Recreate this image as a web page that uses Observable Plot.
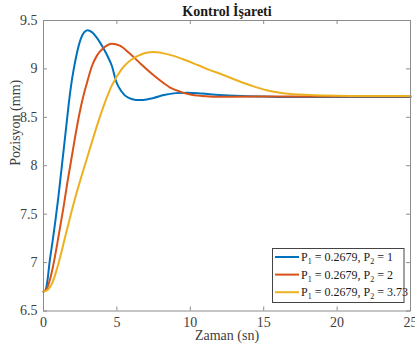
<!DOCTYPE html>
<html>
<head>
<meta charset="utf-8">
<script src="https://cdn.jsdelivr.net/npm/d3@7"></script>
<script src="https://cdn.jsdelivr.net/npm/@observablehq/plot@0.6"></script>
<style>
  body { margin: 0; background: #fff; }
  svg text { font-family: "Liberation Serif", "Times New Roman", serif; }
</style>
</head>
<body>
<div id="chart"></div>
<script>
// Step responses of the position controller for three P2 gains (P1 fixed)
const blueT = [0, 0.15, 0.3, 0.41, 0.6, 0.8, 1.0, 1.2, 1.4, 1.56, 1.72, 1.9, 2.05, 2.27, 2.54, 2.75, 3.0, 3.3, 3.64, 4.09, 4.4, 4.66, 4.95, 5.3, 5.8, 6.3, 6.8, 7.5, 8.2, 9.0, 9.8, 10.8, 12, 13.5, 15, 17, 20, 25];
const blueV = [6.70, 6.72, 6.85, 7.0, 7.2, 7.42, 7.66, 7.93, 8.2, 8.42, 8.64, 8.85, 8.99, 9.16, 9.31, 9.375, 9.40, 9.38, 9.32, 9.21, 9.12, 9.03, 8.87, 8.77, 8.70, 8.68, 8.68, 8.70, 8.73, 8.75, 8.755, 8.745, 8.73, 8.72, 8.715, 8.71, 8.71, 8.71];

const redT = [0, 0.2, 0.45, 0.7, 1.0, 1.35, 1.62, 1.9, 2.18, 2.45, 2.7, 2.95, 3.3, 3.65, 4.05, 4.66, 5.2, 5.8, 6.5, 7.3, 7.95, 8.6, 9.3, 10.0, 10.8, 11.7, 13, 15, 25];
const redV = [6.70, 6.72, 6.83, 7.0, 7.25, 7.56, 7.82, 8.07, 8.32, 8.54, 8.71, 8.85, 9.03, 9.14, 9.21, 9.26, 9.24, 9.17, 9.07, 8.96, 8.88, 8.81, 8.765, 8.735, 8.72, 8.712, 8.713, 8.715, 8.715];

const yellowT = [0, 0.3, 0.6, 1.0, 1.55, 2.09, 3.13, 3.7, 4.2, 4.66, 5.34, 6.36, 7.5, 8.5, 9.5, 10.5, 11.3, 12.04, 13.2, 14.3, 15.2, 16.1, 17.5, 19, 21, 25];
const yellowV = [6.70, 6.72, 6.79, 6.98, 7.31, 7.63, 8.16, 8.44, 8.66, 8.83, 9.0, 9.13, 9.175, 9.15, 9.10, 9.04, 8.99, 8.95, 8.88, 8.82, 8.78, 8.755, 8.735, 8.725, 8.72, 8.72];

const p1 = "0.2679";
const p2Values = ["1", "2", "3.73"];
const seriesColors = ["#0072BD", "#D95319", "#EDB120"];

const xTicks = [0, 5, 10, 15, 20, 25];
const yTicks = [6.5, 7, 7.5, 8, 8.5, 9, 9.5];

const titleText = "Kontrol İşareti";
const xLabel = "Zaman (sn)";
const yLabel = "Pozisyon (mm)";

const toRows = (ts, vs) => ts.map((t, i) => ({t, v: vs[i]}));
const series = [toRows(blueT, blueV), toRows(redT, redV), toRows(yellowT, yellowV)];

const W = 415, H = 349;
const mL = 43, mR = 5, mT = 20, mB = 38.5;
const innerH = H - mT - mB;
const innerW = W - mL - mR;
const tickLen = 4;
const axisGray = "#8c8c8c";
const textGray = "#404040";
const serif = "Liberation Serif, Times New Roman, serif";

const svg = Plot.plot({
  width: W,
  height: H,
  marginLeft: mL,
  marginRight: mR,
  marginTop: mT,
  marginBottom: mB,
  style: {background: "#fff", color: textGray},
  x: {domain: [0, 25]},
  y: {domain: [6.5, 9.5]},
  marks: [
    // inward tick marks on all four sides
    Plot.tickX(xTicks, {x: d => d, insetTop: innerH - tickLen, stroke: axisGray}),
    Plot.tickX(xTicks, {x: d => d, insetBottom: innerH - tickLen, stroke: axisGray}),
    Plot.tickY(yTicks, {y: d => d, insetRight: innerW - tickLen, stroke: axisGray}),
    Plot.tickY(yTicks, {y: d => d, insetLeft: innerW - tickLen, stroke: axisGray}),
    Plot.axisX(xTicks, {tickSize: 0, tickPadding: 6, fontSize: 14, fontFamily: serif, tickFormat: d => `${d}`, label: null, color: textGray}),
    Plot.axisY(yTicks, {tickSize: 0, tickPadding: 6, fontSize: 14, fontFamily: serif, tickFormat: d => `${d}`, label: null, color: textGray}),
    ...series.map((rows, i) =>
      Plot.line(rows, {x: "t", y: "v", stroke: seriesColors[i], strokeWidth: 2, curve: "monotone-x"})
    ),
    Plot.frame({stroke: axisGray}),
    Plot.text([titleText], {text: d => d, frameAnchor: "top", lineAnchor: "middle", dy: -9, fontSize: 14, fontWeight: "bold", fontFamily: serif, fill: "#1a1a1a"}),
    Plot.text([xLabel], {text: d => d, frameAnchor: "bottom", lineAnchor: "middle", dy: 24.5, fontSize: 14, fontFamily: serif, fill: textGray}),
    Plot.text([yLabel], {text: d => d, frameAnchor: "left", lineAnchor: "middle", rotate: -90, dx: -28, fontSize: 14, fontFamily: serif, fill: textGray})
  ]
});

// Legend box in the lower-right corner of the axes
const legend = d3.select(svg).append("g")
  .attr("font-family", serif)
  .attr("font-size", 12)
  .attr("text-anchor", "start")
  .attr("fill", "#1a1a1a");
legend.append("rect")
  .attr("x", 272.5).attr("y", 248.5)
  .attr("width", 131.5).attr("height", 54)
  .attr("fill", "#fff").attr("stroke", "#444");
p2Values.forEach((p2, i) => {
  const cy = 257 + i * 17.6;
  legend.append("line")
    .attr("x1", 275).attr("x2", 299)
    .attr("y1", cy).attr("y2", cy)
    .attr("stroke", seriesColors[i]).attr("stroke-width", 2);
  const t = legend.append("text").attr("x", 301).attr("y", cy + 4);
  t.append("tspan").text("P");
  t.append("tspan").attr("dy", 3).attr("font-size", 8).text("1");
  t.append("tspan").attr("dy", -3).text(` = ${p1}, P`);
  t.append("tspan").attr("dy", 3).attr("font-size", 8).text("2");
  t.append("tspan").attr("dy", -3).text(` = ${p2}`);
});

document.getElementById("chart").appendChild(svg);
</script>
</body>
</html>
